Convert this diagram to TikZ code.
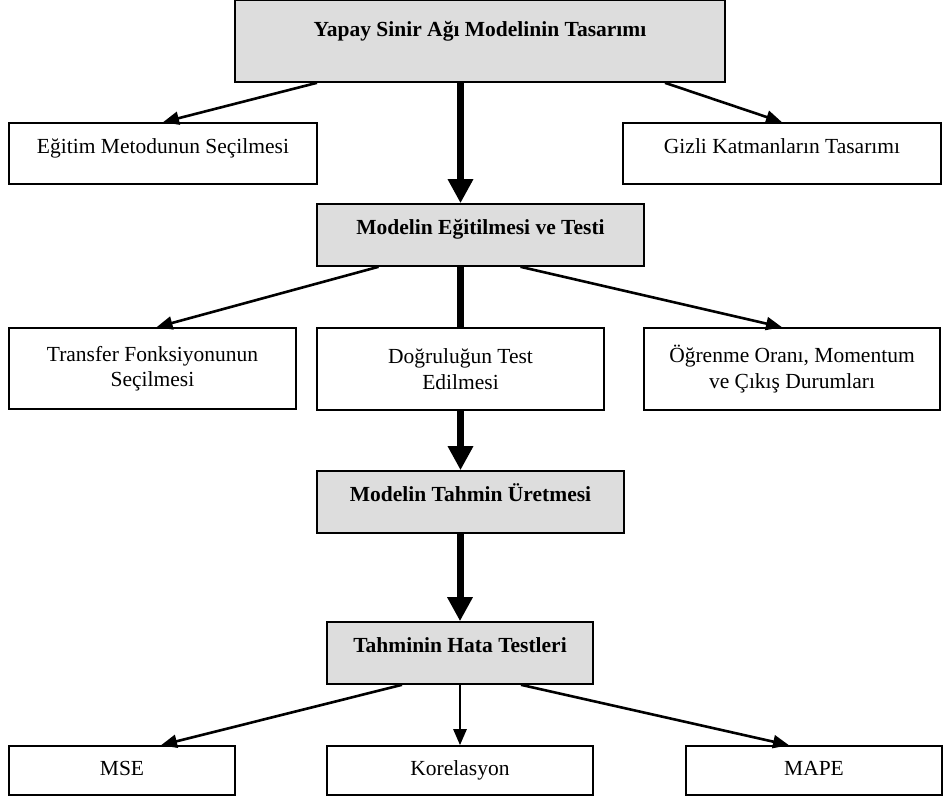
\documentclass[tikz,border=0pt]{standalone}
\usepackage{fontspec}
\setmainfont{Liberation Serif}
\usepackage{tikz}
\usetikzlibrary{arrows.meta,positioning,calc}
\definecolor{boxgray}{RGB}{221,221,221}

\begin{document}
\begin{tikzpicture}[x=1pt,y=-1pt,font=\fontsize{21.5}{25.5}\selectfont,
    box/.style={draw,line width=1.6pt,inner sep=0pt,align=center},
    one/.style={text height=15pt,text depth=16pt},
    level/.style={text height=15pt,text depth=5pt},
    head/.style={box,one,fill=boxgray,font=\fontsize{21.5}{25.5}\selectfont\bfseries},
    thin/.style={line width=2.6pt,-{Triangle[length=16pt,width=13pt]}},
    thick/.style={line width=7pt,-{Triangle[length=24pt,width=24pt]}}]
\useasboundingbox (0,0) rectangle (944,798);
\node[head,minimum width=490pt,minimum height=82pt,text depth=25pt] (design) at (480,41) {Yapay Sinir Ağı Modelinin Tasarımı};
\node[box,one,minimum width=308pt,minimum height=61pt] (method) at (163,153.5) {Eğitim Metodunun Seçilmesi};
\node[box,one,minimum width=318pt,minimum height=61pt] (hidden) at (782,153.5) {Gizli Katmanların Tasarımı};
\node[head,minimum width=327pt,minimum height=62pt] (train) at (480.5,235) {Modelin Eğitilmesi ve Testi};
\node[box,minimum width=287pt,minimum height=81pt] (transfer) at (152.5,368.5) {Transfer Fonksiyonunun\\Seçilmesi};
\node[box,minimum width=287pt,minimum height=82pt] (accuracy) at (460.5,369) {Doğruluğun Test\\Edilmesi};
\node[box,minimum width=296pt,minimum height=82pt] (rate) at (792,369) {Öğrenme Oranı, Momentum\\ve Çıkış Durumları};
\node[head,minimum width=307pt,minimum height=62pt] (forecast) at (470.5,502) {Modelin Tahmin Üretmesi};
\node[head,minimum width=266pt,minimum height=62pt] (errors) at (460,653) {Tahminin Hata Testleri};
\node[box,level,minimum width=226pt,minimum height=49pt] (mse) at (122,770.5) {MSE};
\node[box,level,minimum width=266pt,minimum height=49pt] (corr) at (460,770.5) {Korelasyon};
\node[box,level,minimum width=256pt,minimum height=49pt] (mape) at (814,770.5) {MAPE};

\draw[thin] ([xshift=-163pt]design.south) -- (method.north);
\draw[thin] ([xshift=185pt]design.south) -- (hidden.north);
\draw[thick] (accuracy.north |- design.south) -- (accuracy.north |- train.north);
\draw[thin] ([xshift=-102pt]train.south) -- ([xshift=4pt]transfer.north);
\draw[thin] ([xshift=40pt]train.south) -- ([xshift=-10pt]rate.north);
\draw[line width=7pt] (accuracy.north |- train.south) -- (accuracy.north);
\draw[thick] (accuracy.south) -- (accuracy.south |- forecast.north);
\draw[thick] (errors.north |- forecast.south) -- (errors.north);
\draw[thin] ([xshift=-58pt]errors.south) -- ([xshift=39pt]mse.north);
\draw[thin] (errors.south) -- (corr.north);
\draw[thin] ([xshift=61pt]errors.south) -- ([xshift=-25pt]mape.north);
\end{tikzpicture}
\end{document}
